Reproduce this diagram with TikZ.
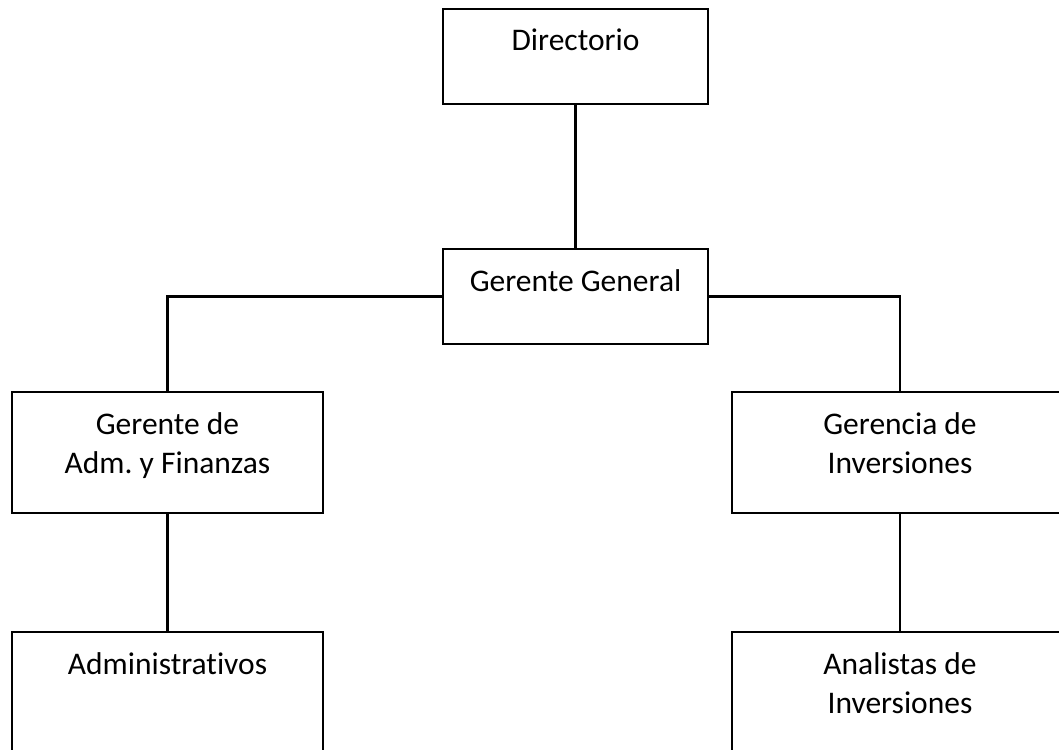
\documentclass[tikz,border=0pt]{standalone}
\usepackage{fontspec}
\setmainfont[Ligatures={NoCommon}]{Carlito}
\frenchspacing
\newcommand\tstrut{\rule{0pt}{30pt}}
\begin{document}
\begin{tikzpicture}[x=1pt,y=-1pt,
  box/.style={draw=black, line width=1.6pt, fill=white, rectangle, inner sep=0pt, outer sep=0pt},
  txt/.style={anchor=north, inner sep=0pt, outer sep=0pt, align=center, font=\fontsize{31.5}{39}\selectfont},
  conn/.style={draw=black, line width=2.6pt}]
\useasboundingbox (0,0) rectangle (1059,749);
\clip (0,0) rectangle (1059,749);
\fill[white] (0,0) rectangle (1059,749);
% boxes
\node[box, minimum width=265pt, minimum height=95pt] (dir) at (575.5,56.5) {};
\node[box, minimum width=265pt, minimum height=95pt] (gg) at (575.5,296.5) {};
\node[box, minimum width=311pt, minimum height=121pt] (adm) at (167.5,452.5) {};
\node[box, minimum width=336pt, minimum height=121pt] (inv) at (900,452.5) {};
\node[box, minimum width=311pt, minimum height=121pt] (admv) at (167.5,692.5) {};
\node[box, minimum width=336pt, minimum height=121pt] (ana) at (900,692.5) {};
% connectors
\draw[conn] (dir.south) -- (gg.north);
\draw[conn] (gg.west) -| (adm.north);
\draw[conn] (gg.east) -| (inv.north);
\draw[conn] (adm.south) -- (admv.north);
\draw[conn] (inv.south) -- (ana.north);
% texts
\node[txt] (tdir) at ([yshift=-12pt]dir.north) {\tstrut Directorio};
\node[txt] (tgg) at ([yshift=-12pt]gg.north) {\tstrut Gerente General};
\node[txt] (tadm) at ([yshift=-12pt]adm.north) {\tstrut Gerente de\\Adm. y Finanzas};
\node[txt] (tinv) at ([yshift=-12pt]inv.north) {\tstrut Gerencia de\\Inversiones};
\node[txt] (tadmv) at ([yshift=-12pt]admv.north) {\tstrut Administrativos};
\node[txt] (tana) at ([yshift=-12pt]ana.north) {\tstrut Analistas de\\Inversiones};
\end{tikzpicture}
\end{document}
